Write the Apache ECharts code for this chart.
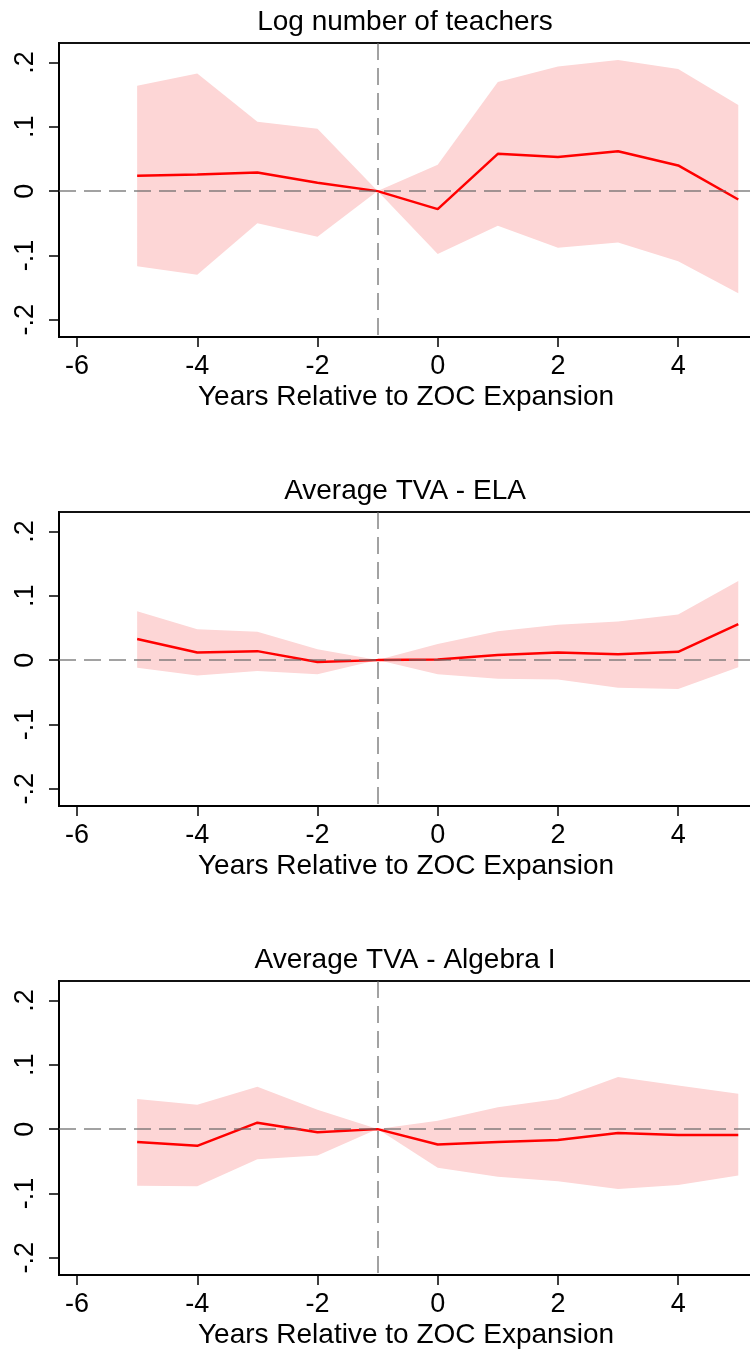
<!DOCTYPE html>
<html>
<head>
<meta charset="utf-8">
<title>ZOC expansion event study</title>
<script src="https://cdn.jsdelivr.net/npm/echarts@6/dist/echarts.min.js"></script>
<style>
    body { margin: 0; background: #fff; }
    #chart { width: 750px; height: 1349px; }
</style>
</head>
<body>
<div id="chart"></div>
<script>
// years relative to expansion, axis ticks
var years = [-5, -4, -3, -2, -1, 0, 1, 2, 3, 4, 5];
var xTicks = [-6, -4, -2, 0, 2, 4];
var yTicks = [-0.2, -0.1, 0, 0.1, 0.2];
var titles = ['Log number of teachers', 'Average TVA - ELA', 'Average TVA - Algebra I'];
var xTitle = 'Years Relative to ZOC Expansion';

// panel 1: log number of teachers
var teachersCoef  = [0.024, 0.026, 0.029, 0.013, 0, -0.028, 0.058, 0.053, 0.062, 0.040, -0.013];
var teachersUpper = [0.164, 0.183, 0.108, 0.097, 0, 0.041, 0.170, 0.194, 0.204, 0.190, 0.134];
var teachersLower = [-0.117, -0.130, -0.050, -0.071, 0, -0.098, -0.054, -0.088, -0.080, -0.109, -0.159];

// panel 2: average TVA - ELA
var elaCoef  = [0.033, 0.012, 0.014, -0.003, 0, 0.001, 0.008, 0.012, 0.009, 0.013, 0.056];
var elaUpper = [0.076, 0.048, 0.044, 0.017, 0, 0.025, 0.045, 0.055, 0.060, 0.071, 0.123];
var elaLower = [-0.012, -0.024, -0.017, -0.022, 0, -0.022, -0.029, -0.030, -0.043, -0.045, -0.011];

// panel 3: average TVA - Algebra I
var algCoef  = [-0.020, -0.026, 0.010, -0.005, 0, -0.024, -0.020, -0.017, -0.006, -0.009, -0.009];
var algUpper = [0.047, 0.038, 0.066, 0.030, 0, 0.013, 0.034, 0.047, 0.081, 0.068, 0.055];
var algLower = [-0.088, -0.089, -0.047, -0.041, 0, -0.060, -0.074, -0.081, -0.093, -0.087, -0.072];

var panels = [
    { coef: teachersCoef, upper: teachersUpper, lower: teachersLower },
    { coef: elaCoef, upper: elaUpper, lower: elaLower },
    { coef: algCoef, upper: algUpper, lower: algLower }
];

var FONT = 'Liberation Sans, Arial, sans-serif';
var gridTops = [43, 512, 981];
var Y_MIN = -0.227, Y_MAX = 0.2305;

function pairs(vals) {
    return years.map(function (x, i) { return [x, vals[i]]; });
}

// band polygon: upper bound left to right, then lower bound back
function bandRenderer(p) {
    return function (params, api) {
        if (params.dataIndex !== 0) return null;
        var pts = [];
        years.forEach(function (x, i) { pts.push(api.coord([x, p.upper[i]])); });
        for (var i = years.length - 1; i >= 0; i--) pts.push(api.coord([years[i], p.lower[i]]));
        return {
            type: 'polygon',
            shape: { points: pts },
            style: { fill: '#fdd6d6' }
        };
    };
}

var option = {
    animation: false,
    backgroundColor: '#fff',
    grid: [],
    xAxis: [],
    yAxis: [],
    series: [],
    graphic: []
};

panels.forEach(function (p, k) {
    option.grid.push({
        left: 59, top: gridTops[k], width: 694, height: 294,
        outerBoundsMode: 'none', containLabel: false,
        show: true, borderColor: '#111', borderWidth: 2, backgroundColor: 'transparent'
    });
    option.xAxis.push({
        type: 'value', gridIndex: k, min: -6.3, max: 5.245,
        name: xTitle, nameLocation: 'middle', nameGap: 46,
        nameTextStyle: { fontFamily: FONT, fontSize: 28, color: '#000' },
        axisLine: { onZero: false, lineStyle: { color: '#000', width: 2 } },
        axisTick: { length: 10, lineStyle: { color: '#000', width: 1.5 }, customValues: xTicks },
        axisLabel: { fontFamily: FONT, fontSize: 27, color: '#000', margin: 16, customValues: xTicks },
        splitLine: { show: false }
    });
    option.yAxis.push({
        type: 'value', gridIndex: k, min: Y_MIN, max: Y_MAX,
        axisLine: { show: true, onZero: false, lineStyle: { color: '#000', width: 2 } },
        axisTick: { show: true, length: 10, lineStyle: { color: '#000', width: 1.5 }, customValues: yTicks },
        axisLabel: {
            fontFamily: FONT, fontSize: 27, color: '#000', rotate: 90, margin: 20,
            customValues: yTicks,
            formatter: function (v) { return String(+v.toFixed(2)).replace('0.', '.'); }
        },
        splitLine: { show: false }
    });

    // confidence band
    option.series.push({
        type: 'custom', xAxisIndex: k, yAxisIndex: k, clip: true, z: 1,
        data: pairs(p.upper), renderItem: bandRenderer(p)
    });
    // reference lines at y = 0 and x = -1
    option.series.push({
        type: 'line', xAxisIndex: k, yAxisIndex: k, data: [], z: 2,
        markLine: {
            silent: true, symbol: 'none', label: { show: false },
            lineStyle: { color: 'rgba(100,100,100,0.6)', type: [17, 8], width: 2 },
            data: [
                [{ coord: [-6.3, 0] }, { coord: [5.245, 0] }],
                [{ coord: [-1, Y_MAX] }, { coord: [-1, Y_MIN] }]
            ]
        }
    });
    // point estimates
    option.series.push({
        type: 'line', xAxisIndex: k, yAxisIndex: k, data: pairs(p.coef),
        symbol: 'none', lineStyle: { color: '#ff0000', width: 2.5 }, z: 3
    });

    option.graphic.push({
        type: 'text', x: 405, y: gridTops[k] - 21,
        style: { text: titles[k], font: '28px ' + FONT, fill: '#000', textAlign: 'center', textVerticalAlign: 'middle' }
    });
});

var chart = echarts.init(document.getElementById('chart'));
chart.setOption(option);
</script>
</body>
</html>
